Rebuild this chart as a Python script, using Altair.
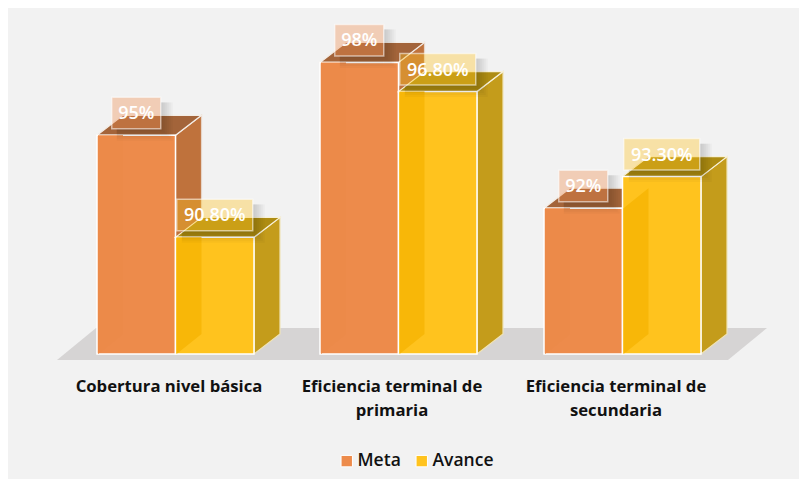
import altair as alt
import pandas as pd

label_lines = [["Cobertura nivel básica"], ["Eficiencia terminal de", "primaria"], ["Eficiencia terminal de", "secundaria"]]
meta = [95, 98, 92]
avance = [90.8, 96.8, 93.3]
meta_labels = ["95%", "98%", "92%"]
avance_labels = ["90.80%", "96.80%", "93.30%"]
series = ["Meta", "Avance"]

W, H = 791, 471
PX = 24.3
Y_MIN_PX = 346  # plot pixel of the baseline
BASE = 86.0
DX, DY = 26, 20
BAR_W = 78.5
starts = [89, 312, 536]


def v(dpx):
    return dpx / PX


xscale = alt.Scale(domain=[0, W], range=[0, W])
yscale = alt.Scale(domain=[BASE - v(H - Y_MIN_PX), BASE + v(Y_MIN_PX)], range=[H, 0])
X = alt.X("x:Q", scale=xscale, axis=None)
Y = alt.Y("y:Q", scale=yscale, axis=None)
X2 = alt.X2("x2:Q")
Y2 = alt.Y2("y2:Q")


def side_rows(x0, val, sid):
    return [
        {"id": sid, "x": x0, "y": val, "y2": BASE},
        {"id": sid, "x": x0 + DX, "y": val + v(DY), "y2": BASE + v(DY)},
    ]


def top_rows(x0, val, sid):
    return [
        {"id": sid, "y": val, "x": x0, "x2": x0 + BAR_W},
        {"id": sid, "y": val + v(DY), "x": x0 + DX, "x2": x0 + BAR_W + DX},
    ]


def area(rows, color, opacity=1.0, stroke=None):
    kw = {"stroke": stroke, "strokeWidth": 1.2} if stroke else {}
    return alt.Chart(pd.DataFrame(rows)).mark_area(color=color, opacity=opacity, **kw).encode(
        x=X, y=Y, y2=Y2, detail="id:N")


def harea(rows, color, stroke=None):
    kw = {"stroke": stroke, "strokeWidth": 1.2} if stroke else {}
    return alt.Chart(pd.DataFrame(rows)).mark_area(color=color, orient="horizontal", **kw).encode(
        y=Y, x=X, x2=X2, detail="id:N")


color_scale = alt.Scale(domain=series, range=["#ED8B4B", "#FFC31E"])
legend = alt.Legend(
    title=None, orient="none", legendX=330, legendY=444, direction="horizontal",
    symbolType="square", symbolSize=130, symbolStrokeColor="white", symbolStrokeWidth=1,
    symbolOpacity=1, labelFont="Open Sans", labelFontSize=17.5, labelFontWeight=600,
    labelColor="#111111", columnPadding=12, labelOffset=2,
)

layers = []

# floor
floor = [{"id": "f", "y": BASE - v(6), "x": 49, "x2": 720},
         {"id": "f", "y": BASE + v(26), "x": 88, "x2": 759}]
layers.append(harea(floor, "#D6D4D4"))

# Meta
layers.append(area([r for i, s in enumerate(starts) for r in side_rows(s + BAR_W, meta[i], f"ms{i}")], "#BF723C", stroke="#E6D5C8"))
layers.append(harea([r for i, s in enumerate(starts) for r in top_rows(s, meta[i], f"mt{i}")], "#A3643A", stroke="#F4EDE6"))
front_m = pd.DataFrame([{"x": s, "x2": s + BAR_W, "y": meta[i], "y2": BASE, "serie": "Meta"} for i, s in enumerate(starts)])
layers.append(alt.Chart(front_m).mark_rect(stroke="white", strokeWidth=1.5).encode(
    x=X, x2=X2, y=Y, y2=Y2, color=alt.Color("serie:N", scale=color_scale, legend=legend)))

# Avance
xa = [s + BAR_W for s in starts]
layers.append(area([r for i, s in enumerate(xa) for r in side_rows(s + BAR_W, avance[i], f"as{i}")], "#C49C1B", stroke="#EFE3B8"))
layers.append(harea([r for i, s in enumerate(xa) for r in top_rows(s, avance[i], f"at{i}")], "#AE8C12", stroke="#F8F1D8"))
front_a = pd.DataFrame([{"x": s, "x2": s + BAR_W, "y": avance[i], "y2": BASE, "serie": "Avance"} for i, s in enumerate(xa)])
layers.append(alt.Chart(front_a).mark_rect(stroke="white", strokeWidth=1.5).encode(
    x=X, x2=X2, y=Y, y2=Y2, color=alt.Color("serie:N", scale=color_scale, legend=legend)))

# Meta side seen through the Avance front
through = []
for i, s in enumerate(xa):
    through.append({"id": f"th{i}", "x": s + 1, "y": min(meta[i], avance[i]), "y2": BASE})
    through.append({"id": f"th{i}", "x": s + DX, "y": min(meta[i] + v(DY), avance[i]), "y2": BASE + v(DY)})
layers.append(area(through, "#F8B708"))
# wall seen through the Meta front
wall = []
for i, s in enumerate(starts):
    wall.append({"id": f"w{i}", "x": s + 1, "y": meta[i], "y2": BASE})
    wall.append({"id": f"w{i}", "x": s + DX, "y": meta[i], "y2": BASE + v(DY)})
layers.append(area(wall, "#EC8A49"))

# data label boxes
boxes = []
for vals, labs, xs, ser in [(meta, meta_labels, starts, "Meta"), (avance, avance_labels, xa, "Avance")]:
    for val, lab, s in zip(vals, labs, xs):
        cx = s + BAR_W / 2
        w = 49 if len(lab) == 3 else 76
        boxes.append({"x": cx - w / 2, "x2": cx + w / 2, "y": val + v(38), "y2": val + v(6.5),
                      "cx": cx, "cy": val + v(21), "label": lab, "serie": ser})
bdf = pd.DataFrame(boxes)

# soft shadow to the right of and below each label box
for k in (2, 4, 6, 8, 10, 12):
    right = bdf.assign(x=bdf.x2, x2=bdf.x2 + k, y=bdf.y - v(5), y2=bdf.y2 - v(k))
    below = bdf.assign(x=bdf.x + 5, y=bdf.y2, y2=bdf.y2 - v(k))
    for d in (right, below):
        layers.append(alt.Chart(d).mark_rect(color="#000000", opacity=0.028).encode(x=X, x2=X2, y=Y, y2=Y2))

box_scale = alt.Scale(domain=series, range=["#ED8B4B", "#FFC31E"])
layers.append(alt.Chart(bdf).mark_rect(fillOpacity=0.36, stroke="white", strokeOpacity=0.55, strokeWidth=1.5).encode(
    x=X, x2=X2, y=Y, y2=Y2, fill=alt.Fill("serie:N", scale=box_scale, legend=None)))
layers.append(alt.Chart(bdf).mark_text(color="white", font="Open Sans", fontSize=18, fontWeight=600).encode(
    x=alt.X("cx:Q", scale=xscale, axis=None), y=alt.Y("cy:Q", scale=yscale, axis=None), text="label:N"))

# category labels
rows = []
for i, lines in enumerate(label_lines):
    for j, t in enumerate(lines):
        rows.append({"x": starts[i] + BAR_W - 6.5, "y": BASE - v(33 + 24 * j), "t": t})
layers.append(alt.Chart(pd.DataFrame(rows)).mark_text(color="#111111", font="Open Sans", fontSize=16.7, fontWeight=700).encode(
    x=X, y=Y, text="t:N"))

chart = alt.layer(*layers).properties(
    width=W, height=H, padding=0, background="#F2F2F2", autosize=alt.AutoSizeParams(type="none")
).configure_view(stroke=None)

chart.save("out.html", embed_options={"renderer": "svg", "actions": False})
